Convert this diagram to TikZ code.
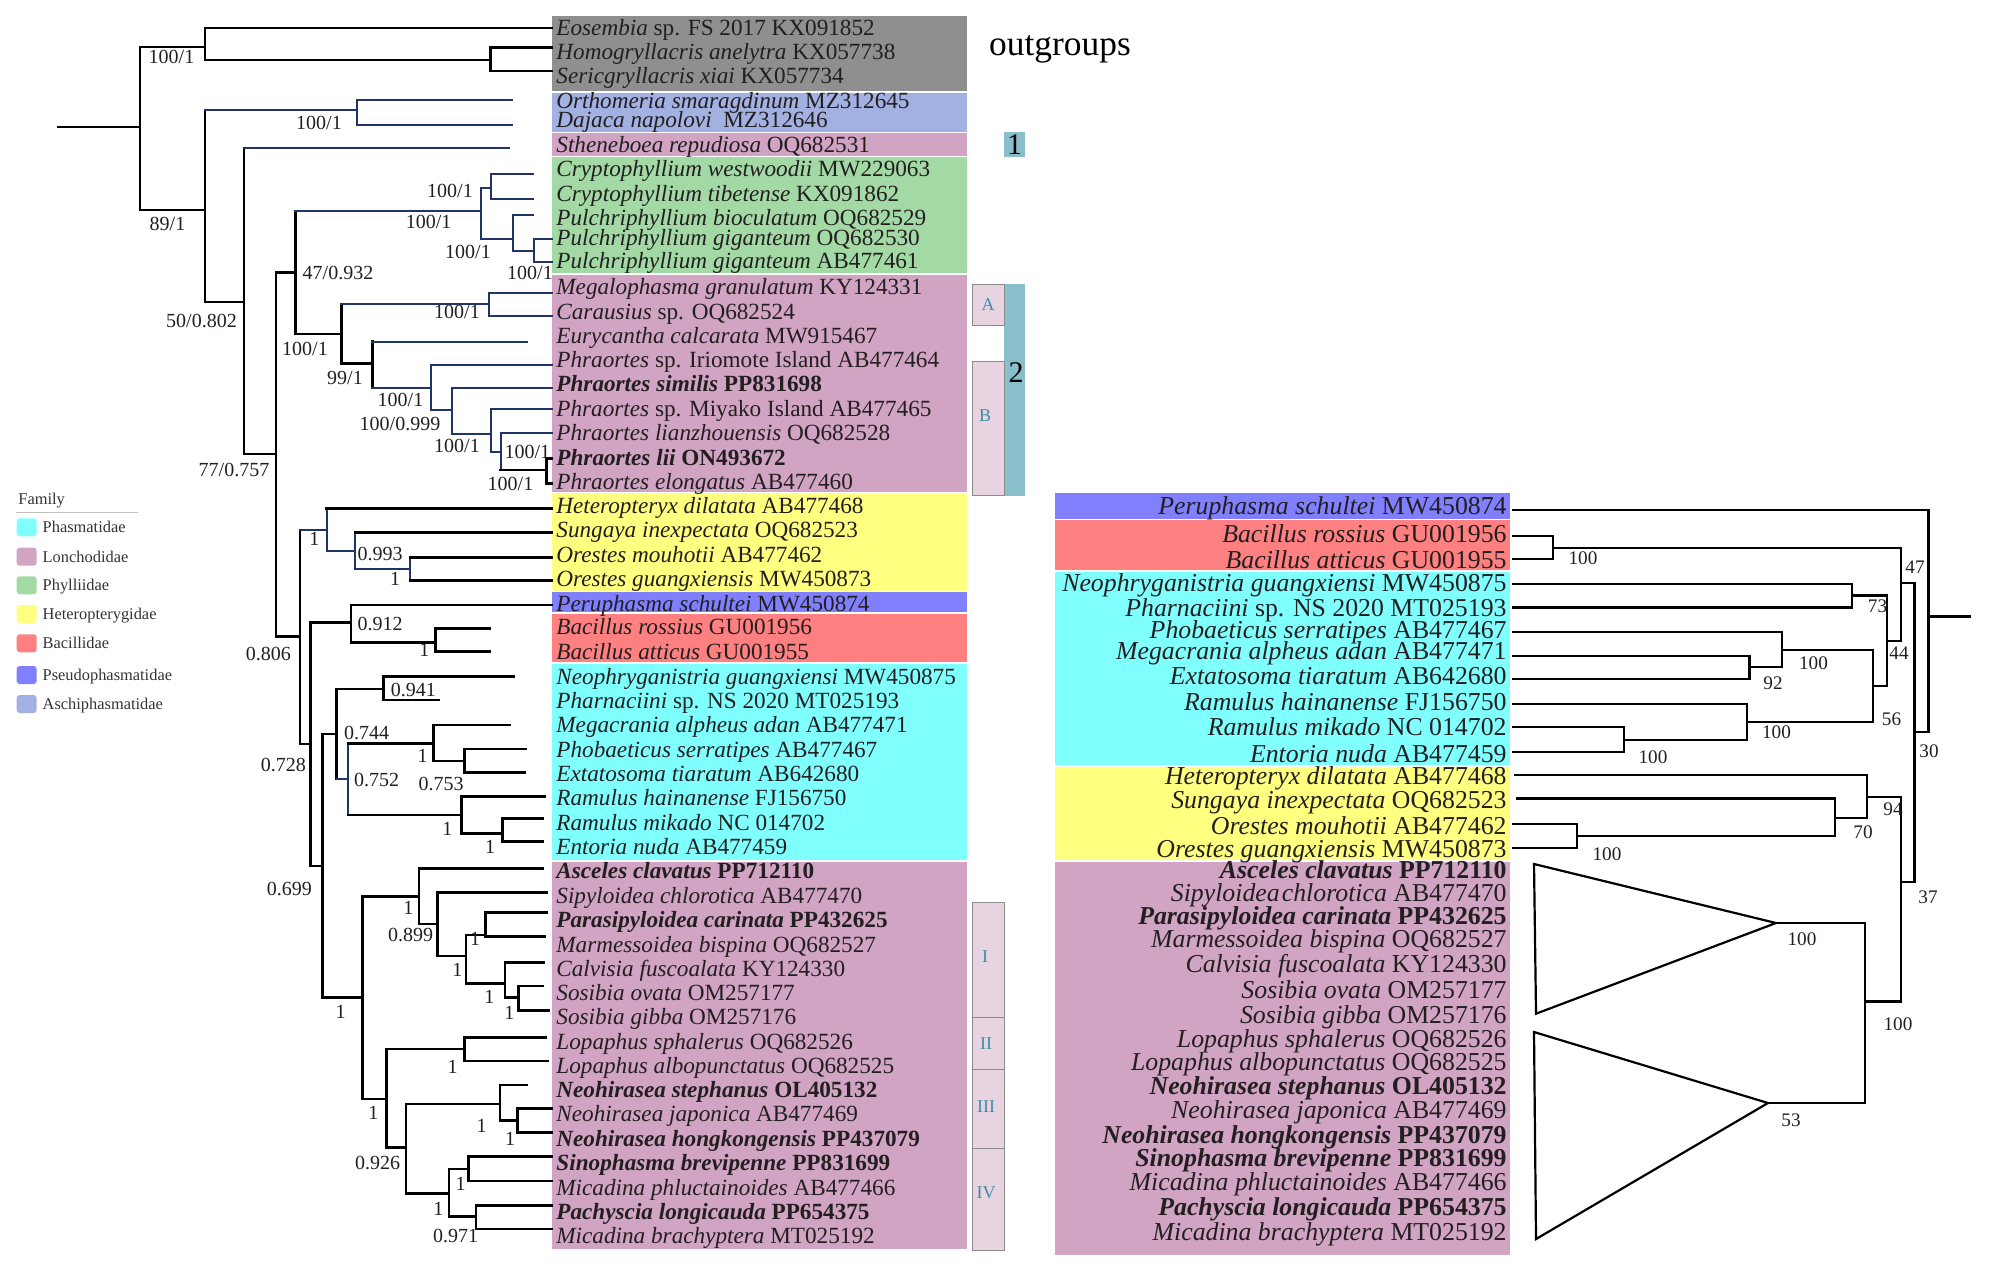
\documentclass[tikz,border=0pt]{standalone}
\usepackage{fontspec}
\setmainfont{Liberation Serif}
\definecolor{cGray}{HTML}{8F8F8F}
\definecolor{cAschi}{HTML}{A3B1E2}
\definecolor{cLonch}{HTML}{D0A4C2}
\definecolor{cPhyl}{HTML}{A3D9A5}
\definecolor{cHet}{HTML}{FFFF80}
\definecolor{cBac}{HTML}{FF8080}
\definecolor{cPseudo}{HTML}{8080FF}
\definecolor{cPhas}{HTML}{80FFFF}
\definecolor{cTeal}{HTML}{8ABECB}
\definecolor{cClade}{HTML}{E8D3E1}
\definecolor{cCladeTxt}{HTML}{3D8DA8}
\definecolor{cNavy}{HTML}{1F3566}
\definecolor{cTxt}{HTML}{231F20}
\newcommand{\edge}[4]{\draw[#3] (#1) -- (#1 |- #2); \draw[#4] (#1 |- #2) -- (#2);}
\tikzset{
  bk/.style={line width=1.25pt, line cap=rect, draw=black},
  nv/.style={line width=1.15pt, line cap=rect, draw=cNavy},
  rb/.style={line width=1.1pt, line cap=rect, draw=black},
  lt/.style={anchor=west, inner sep=0pt, text=cTxt, font=\fontsize{11.6}{12}\selectfont, text height=8pt, text depth=0pt},
  rt/.style={anchor=east, inner sep=0pt, text=cTxt, font=\fontsize{12.9}{13}\selectfont, text height=8.8pt, text depth=0pt},
  nl/.style={inner sep=0pt, text=cTxt, font=\fontsize{10}{10}\selectfont, text height=6.8pt, text depth=0pt},
  rl/.style={inner sep=0pt, text=cTxt, font=\fontsize{9.6}{10}\selectfont, text height=6.5pt, text depth=0pt},
  lg/.style={anchor=west, inner sep=0pt, text=black!80, font=\fontsize{8.2}{9}\selectfont, text height=5.6pt, text depth=0pt},
  sw/.style={rounded corners=1.5pt},
  cladebox/.style={fill=cClade, draw=black!45, line width=0.5pt},
  cladetxt/.style={inner sep=0pt, text=cCladeTxt, font=\fontsize{9}{9}\selectfont}
}
\begin{document}
\begin{tikzpicture}[x=0.5pt,y=-0.5pt]
\useasboundingbox (0,0) rectangle (1989,1274);
% ---------------- left colour boxes
\fill[cGray]   (552,15.8) rectangle (967,91);
\fill[cAschi]  (552,92.5) rectangle (967,131.7);
\fill[cLonch]  (552,133.2) rectangle (967,155.5);
\fill[cPhyl]   (552,157) rectangle (967,273);
\fill[cLonch]  (552,274.5) rectangle (967,491.5);
\fill[cHet]    (552,493) rectangle (967,590.7);
\fill[cPseudo] (552,592.2) rectangle (967,612.3);
\fill[cBac]    (552,614) rectangle (967,661.8);
\fill[cPhas]   (552,663.5) rectangle (967,860);
\fill[cLonch]  (552,861.5) rectangle (967,1249);
% ---------------- right colour boxes
\fill[cPseudo] (1055,493) rectangle (1509.6,518.5);
\fill[cBac]    (1055,520) rectangle (1509.6,570);
\fill[cPhas]   (1055,571.5) rectangle (1509.6,765);
\fill[cHet]    (1055,766.5) rectangle (1509.6,860);
\fill[cLonch]  (1055,861.5) rectangle (1509.6,1255);
% ---------------- clade marks
\fill[cTeal] (1004,131.7) rectangle (1025,157);
\node[inner sep=0pt, font=\fontsize{15}{15}\selectfont] (c1) at (1014.5,144.5) {1};
\fill[cTeal] (1004,284) rectangle (1025,496);
\node[inner sep=0pt, font=\fontsize{15}{15}\selectfont] (c2) at (1016,373) {2};
\draw[cladebox] (972.6,284) rectangle (1004,325);
\node[cladetxt] (cA) at (988,304.5) {A};
\draw[cladebox] (972.6,361) rectangle (1004,495.5);
\node[cladetxt] (cB) at (985,416) {B};
\draw[cladebox] (972,902) rectangle (1004,1017);
\node[cladetxt] (cI) at (985,957) {I};
\draw[cladebox] (972,1017) rectangle (1004,1069);
\node[cladetxt] (cII) at (986,1044) {II};
\draw[cladebox] (972,1069) rectangle (1004,1148);
\node[cladetxt] (cIII) at (986,1107) {III};
\draw[cladebox] (972,1148) rectangle (1004,1250);
\node[cladetxt] (cIV) at (986,1193) {IV};
\node[anchor=base, inner sep=0pt, font=\fontsize{17.7}{18}\selectfont, text=black] (og) at (1060,55) {outgroups};
% ---------------- legend
\node[lg] (lgF) at (18,499) {Family};
\draw[black!25, line width=0.6pt] (16,512.3) -- (138,512.3);
\foreach \c/\t/\y [count=\i] in {cPhas/Phasmatidae/527.3, cLonch/Lonchodidae/556.7, cPhyl/Phylliidae/585.3, cHet/Heteropterygidae/614, cBac/Bacillidae/643.3, cPseudo/Pseudophasmatidae/675, cAschi/Aschiphasmatidae/704}{
  \fill[\c, sw] (16.7,\y-9) rectangle (36.7,\y+9);
  \node[lg] (lg\i) at (42.3,\y) {\t};
}
% ---------------- left taxa labels
\node[lt] (L1) at (556,27.7) {\textit{Eosembia} sp. FS 2017 KX091852};
\node[lt] (L2) at (556,51.4) {\textit{Homogryllacris anelytra} KX057738};
\node[lt] (L3) at (556,75.1) {\textit{Sericgryllacris xiai} KX057734};
\node[lt] (L4) at (556,100.8) {\textit{Orthomeria smaragdinum} MZ312645};
\node[lt] (L5) at (556,119.4) {\textit{Dajaca napolovi}\ \ MZ312646};
\node[lt] (L6) at (556,144.3) {\textit{Stheneboea repudiosa} OQ682531};
\node[lt] (L7) at (556,168.8) {\textit{Cryptophyllium westwoodii} MW229063};
\node[lt] (L8) at (556,193) {\textit{Cryptophyllium tibetense} KX091862};
\node[lt] (L9) at (556,217) {\textit{Pulchriphyllium bioculatum} OQ682529};
\node[lt] (L10) at (556,237.6) {\textit{Pulchriphyllium giganteum} OQ682530};
\node[lt] (L11) at (556,260) {\textit{Pulchriphyllium giganteum} AB477461};
\node[lt] (L12) at (556,286) {\textit{Megalophasma granulatum} KY124331};
\node[lt] (L13) at (556,311) {\textit{Carausius} sp. OQ682524};
\node[lt] (L14) at (556,335) {\textit{Eurycantha calcarata} MW915467};
\node[lt] (L15) at (556,359) {\textit{Phraortes} sp. Iriomote Island AB477464};
\node[lt] (L16) at (556,383) {\textbf{\textit{Phraortes similis} PP831698}};
\node[lt] (L17) at (556,408) {\textit{Phraortes} sp. Miyako Island AB477465};
\node[lt] (L18) at (556,432) {\textit{Phraortes lianzhouensis} OQ682528};
\node[lt] (L19) at (556,457) {\textbf{\textit{Phraortes lii} ON493672}};
\node[lt] (L20) at (556,481) {\textit{Phraortes elongatus} AB477460};
\node[lt] (L21) at (556,505) {\textit{Heteropteryx dilatata} AB477468};
\node[lt] (L22) at (556,529) {\textit{Sungaya inexpectata} OQ682523};
\node[lt] (L23) at (556,554) {\textit{Orestes mouhotii} AB477462};
\node[lt] (L24) at (556,578) {\textit{Orestes guangxiensis} MW450873};
\node[lt] (L25) at (556,603) {\textit{Peruphasma schultei} MW450874};
\node[lt] (L26) at (556,626.7) {\textit{Bacillus rossius} GU001956};
\node[lt] (L27) at (556,651.6) {\textit{Bacillus atticus} GU001955};
\node[lt] (L28) at (556,676.5) {\textit{Neophryganistria guangxiensi} MW450875};
\node[lt] (L29) at (556,700) {\textit{Pharnaciini} sp. NS 2020 MT025193};
\node[lt] (L30) at (556,724.7) {\textit{Megacrania alpheus adan} AB477471};
\node[lt] (L31) at (556,749) {\textit{Phobaeticus serratipes} AB477467};
\node[lt] (L32) at (556,773) {\textit{Extatosoma tiaratum} AB642680};
\node[lt] (L33) at (556,797.7) {\textit{Ramulus hainanense} FJ156750};
\node[lt] (L34) at (556,822) {\textit{Ramulus mikado} NC 014702};
\node[lt] (L35) at (556,846) {\textit{Entoria nuda} AB477459};
\node[lt] (L36) at (556,870.8) {\textbf{\textit{Asceles clavatus} PP712110}};
\node[lt] (L37) at (556,895.7) {\textit{Sipyloidea chlorotica} AB477470};
\node[lt] (L38) at (556,919) {\textbf{\textit{Parasipyloidea carinata} PP432625}};
\node[lt] (L39) at (556,944) {\textit{Marmessoidea bispina} OQ682527};
\node[lt] (L40) at (556,968) {\textit{Calvisia fuscoalata} KY124330};
\node[lt] (L41) at (556,992) {\textit{Sosibia ovata} OM257177};
\node[lt] (L42) at (556,1016) {\textit{Sosibia gibba} OM257176};
\node[lt] (L43) at (556,1041) {\textit{Lopaphus sphalerus} OQ682526};
\node[lt] (L44) at (556,1065) {\textit{Lopaphus albopunctatus} OQ682525};
\node[lt] (L45) at (556,1089) {\textbf{\textit{Neohirasea stephanus} OL405132}};
\node[lt] (L46) at (556,1113.7) {\textit{Neohirasea japonica} AB477469};
\node[lt] (L47) at (556,1138) {\textbf{\textit{Neohirasea hongkongensis} PP437079}};
\node[lt] (L48) at (556,1162) {\textbf{\textit{Sinophasma brevipenne} PP831699}};
\node[lt] (L49) at (556,1187) {\textit{Micadina phluctainoides} AB477466};
\node[lt] (L50) at (556,1211) {\textbf{\textit{Pachyscia longicauda} PP654375}};
\node[lt] (L51) at (556,1235) {\textit{Micadina brachyptera} MT025192};
% ---------------- right taxa labels
\node[rt] (R1) at (1507,506) {\textit{Peruphasma schultei} MW450874};
\node[rt] (R2) at (1507,534) {\textit{Bacillus rossius} GU001956};
\node[rt] (R3) at (1507,560) {\textit{Bacillus atticus} GU001955};
\node[rt] (R4) at (1507,583) {\textit{Neophryganistria guangxiensi} MW450875};
\node[rt] (R5) at (1507,607.6) {\textit{Pharnaciini} sp. NS 2020 MT025193};
\node[rt] (R6) at (1507,629.7) {\textit{Phobaeticus serratipes} AB477467};
\node[rt] (R7) at (1507,651) {\textit{Megacrania alpheus adan} AB477471};
\node[rt] (R8) at (1507,676) {\textit{Extatosoma tiaratum} AB642680};
\node[rt] (R9) at (1507,702) {\textit{Ramulus hainanense} FJ156750};
\node[rt] (R10) at (1507,727) {\textit{Ramulus mikado} NC 014702};
\node[rt] (R11) at (1507,753.7) {\textit{Entoria nuda} AB477459};
\node[rt] (R12) at (1507,775.8) {\textit{Heteropteryx dilatata} AB477468};
\node[rt] (R13) at (1507,799.5) {\textit{Sungaya inexpectata} OQ682523};
\node[rt] (R14) at (1507,825.7) {\textit{Orestes mouhotii} AB477462};
\node[rt] (R15) at (1507,849) {\textit{Orestes guangxiensis} MW450873};
\node[rt] (R16) at (1507,870) {\textbf{\textit{Asceles clavatus} PP712110}};
\node[rt] (R17) at (1507,892.5) {\textit{Sipyloidea\hspace{0.08em}chlorotica} AB477470};
\node[rt] (R18) at (1507,915.6) {\textbf{\textit{Parasipyloidea carinata} PP432625}};
\node[rt] (R19) at (1507,938.7) {\textit{Marmessoidea bispina} OQ682527};
\node[rt] (R20) at (1507,963.4) {\textit{Calvisia fuscoalata} KY124330};
\node[rt] (R21) at (1507,990) {\textit{Sosibia ovata} OM257177};
\node[rt] (R22) at (1507,1015) {\textit{Sosibia gibba} OM257176};
\node[rt] (R23) at (1507,1038.6) {\textit{Lopaphus sphalerus} OQ682526};
\node[rt] (R24) at (1507,1062) {\textit{Lopaphus albopunctatus} OQ682525};
\node[rt] (R25) at (1507,1086) {\textbf{\textit{Neohirasea stephanus} OL405132}};
\node[rt] (R26) at (1507,1109.5) {\textit{Neohirasea japonica} AB477469};
\node[rt] (R27) at (1507,1134.7) {\textbf{\textit{Neohirasea hongkongensis} PP437079}};
\node[rt] (R28) at (1507,1158) {\textbf{\textit{Sinophasma brevipenne} PP831699}};
\node[rt] (R29) at (1507,1182) {\textit{Micadina phluctainoides} AB477466};
\node[rt] (R30) at (1507,1206.7) {\textbf{\textit{Pachyscia longicauda} PP654375}};
\node[rt] (R31) at (1507,1232) {\textit{Micadina brachyptera} MT025192};
% ---------------- left tree: coordinates
\coordinate (rootL) at (58,127);
\coordinate (R0) at (140,127);
\coordinate (Nout) at (205,47);
\coordinate (tEos) at (552,28);
\coordinate (Nhs) at (490.7,60);
\coordinate (tHom) at (552,47.7);
\coordinate (tSer) at (552,71);
\coordinate (N89) at (205,210);
\coordinate (Naschi) at (356.7,110);
\coordinate (tOrt) at (512,100);
\coordinate (tDaj) at (512,125);
\coordinate (N50) at (244,302);
\coordinate (tSth) at (509,148);
\coordinate (N77) at (276,454);
\coordinate (N47) at (295.3,272.7);
\coordinate (Nphyl) at (480.7,211);
\coordinate (Ncrypt) at (491,187.7);
\coordinate (tCw) at (533,174);
\coordinate (tCt) at (533,199);
\coordinate (Npulch) at (513.3,239.3);
\coordinate (tPb) at (532.7,215);
\coordinate (Ngig) at (534,250.7);
\coordinate (tPg1) at (552,239.3);
\coordinate (tPg2) at (552,262.3);
\coordinate (N100a) at (341.3,334);
\coordinate (NAC) at (489.3,304);
\coordinate (tMeg) at (552,292.7);
\coordinate (tCar) at (552,316);
\coordinate (N99) at (372.3,363.3);
\coordinate (tEur) at (527.3,341.7);
\coordinate (N100b) at (431,387.7);
\coordinate (tIri) at (552,365);
\coordinate (N999) at (451.7,410);
\coordinate (tSim) at (552,388.3);
\coordinate (N100c) at (490.7,434);
\coordinate (tMiy) at (552,409.3);
\coordinate (N100d) at (500.7,451.7);
\coordinate (tLia) at (552,433.3);
\coordinate (Nlii) at (546.7,470);
\coordinate (tLii) at (552,458.3);
\coordinate (tElo) at (552,483.3);
\coordinate (N806) at (300,636.7);
\coordinate (N1het) at (326.7,530);
\coordinate (tHet) at (552,508.3);
\coordinate (N993) at (355,550.7);
\coordinate (tSun) at (552,532.3);
\coordinate (N1or) at (410,569.3);
\coordinate (tOm) at (552,557.3);
\coordinate (tOg) at (552,580.7);
\coordinate (N728) at (310.7,744);
\coordinate (N912) at (351,622.3);
\coordinate (tPer) at (552,605);
\coordinate (N1bac) at (435.7,642.3);
\coordinate (tBr) at (490,628.3);
\coordinate (tBa) at (490,651.7);
\coordinate (N699) at (322.3,866);
\coordinate (Nphas) at (336.7,734);
\coordinate (N941) at (383.3,689);
\coordinate (tNeo) at (514,676.7);
\coordinate (tPha) at (438.3,700);
\coordinate (N752) at (348.3,779);
\coordinate (N1meg) at (433.3,743.3);
\coordinate (tMeg2) at (510,725);
\coordinate (N753) at (464.3,761);
\coordinate (tPho) at (525.7,749);
\coordinate (tExt) at (524.3,772.7);
\coordinate (N1ram) at (461.7,815);
\coordinate (tRh) at (544.3,796.7);
\coordinate (N1ent) at (502.3,833.3);
\coordinate (tRm) at (542.7,818.3);
\coordinate (tEnt) at (542.7,841.7);
\coordinate (N1L) at (362.7,997.3);
\coordinate (N1a) at (419,896.7);
\coordinate (tAsc) at (542.7,868.3);
\coordinate (N899) at (437.7,924);
\coordinate (tSip) at (546.7,892.3);
\coordinate (N1b) at (466,956);
\coordinate (N1par) at (485.7,935);
\coordinate (tPar) at (546.7,912.7);
\coordinate (tMar) at (544.3,936.7);
\coordinate (N1cal) at (505,983.3);
\coordinate (tCal) at (544,962.3);
\coordinate (N1sos) at (518.3,997.7);
\coordinate (tSo) at (542.7,986);
\coordinate (tSg) at (548.3,1010.7);
\coordinate (N1c) at (386.7,1099);
\coordinate (N1lop) at (464.3,1049);
\coordinate (tLs) at (546,1037.3);
\coordinate (tLa) at (547.3,1061);
\coordinate (N926) at (406,1147.7);
\coordinate (N1neo) at (500,1104);
\coordinate (tNs) at (526.7,1085);
\coordinate (N1jap) at (517.3,1120.7);
\coordinate (tNj) at (552,1108.3);
\coordinate (tNh) at (552,1132.7);
\coordinate (N1d) at (449,1193.3);
\coordinate (N1sin) at (468.3,1169);
\coordinate (tSin) at (552,1156.7);
\coordinate (tMp) at (552,1181);
\coordinate (N971) at (476,1216.7);
\coordinate (tPac) at (552,1205.7);
\coordinate (tMb) at (552,1229);
% ---------------- left tree: branches
\draw[bk] (rootL) -- (R0);
\edge{R0}{Nout}{bk}{bk} \edge{R0}{N89}{bk}{bk}
\edge{Nout}{tEos}{bk}{bk} \edge{Nout}{Nhs}{bk}{bk}
\edge{Nhs}{tHom}{bk}{bk} \edge{Nhs}{tSer}{bk}{bk}
\edge{N89}{Naschi}{bk}{nv} \edge{N89}{N50}{bk}{bk}
\edge{Naschi}{tOrt}{nv}{nv} \edge{Naschi}{tDaj}{nv}{nv}
\edge{N50}{tSth}{bk}{nv} \edge{N50}{N77}{bk}{bk}
\edge{N77}{N47}{bk}{bk} \edge{N77}{N806}{bk}{bk}
\edge{N47}{Nphyl}{bk}{nv} \edge{N47}{N100a}{bk}{bk}
\edge{Nphyl}{Ncrypt}{nv}{nv} \edge{Nphyl}{Npulch}{nv}{nv}
\edge{Ncrypt}{tCw}{nv}{nv} \edge{Ncrypt}{tCt}{nv}{nv}
\edge{Npulch}{tPb}{nv}{nv} \edge{Npulch}{Ngig}{nv}{nv}
\edge{Ngig}{tPg1}{nv}{nv} \edge{Ngig}{tPg2}{nv}{nv}
\edge{N100a}{NAC}{bk}{nv} \edge{N100a}{N99}{bk}{bk}
\edge{NAC}{tMeg}{nv}{nv} \edge{NAC}{tCar}{nv}{nv}
\edge{N99}{tEur}{bk}{nv} \edge{N99}{N100b}{bk}{nv}
\edge{N100b}{tIri}{nv}{nv} \edge{N100b}{N999}{nv}{nv}
\edge{N999}{tSim}{nv}{nv} \edge{N999}{N100c}{nv}{nv}
\edge{N100c}{tMiy}{nv}{nv} \edge{N100c}{N100d}{nv}{nv}
\edge{N100d}{tLia}{nv}{nv} \edge{N100d}{Nlii}{nv}{bk}
\edge{Nlii}{tLii}{bk}{bk} \edge{Nlii}{tElo}{bk}{bk}
\edge{N806}{N1het}{bk}{nv} \edge{N806}{N728}{bk}{bk}
\edge{N1het}{tHet}{nv}{bk} \edge{N1het}{N993}{nv}{nv}
\edge{N993}{tSun}{nv}{bk} \edge{N993}{N1or}{nv}{nv}
\edge{N1or}{tOm}{nv}{bk} \edge{N1or}{tOg}{nv}{bk}
\edge{N728}{N912}{bk}{bk} \edge{N728}{N699}{bk}{bk}
\edge{N912}{tPer}{bk}{bk} \edge{N912}{N1bac}{bk}{bk}
\edge{N1bac}{tBr}{bk}{bk} \edge{N1bac}{tBa}{bk}{bk}
\edge{N699}{Nphas}{bk}{bk} \edge{N699}{N1L}{bk}{bk}
\edge{Nphas}{N941}{bk}{bk} \edge{Nphas}{N752}{bk}{nv}
\edge{N941}{tNeo}{bk}{bk} \edge{N941}{tPha}{bk}{bk}
\edge{N752}{N1meg}{nv}{bk} \edge{N752}{N1ram}{nv}{bk}
\edge{N1meg}{tMeg2}{bk}{bk} \edge{N1meg}{N753}{bk}{bk}
\edge{N753}{tPho}{bk}{bk} \edge{N753}{tExt}{bk}{bk}
\edge{N1ram}{tRh}{bk}{bk} \edge{N1ram}{N1ent}{bk}{bk}
\edge{N1ent}{tRm}{bk}{bk} \edge{N1ent}{tEnt}{bk}{bk}
\edge{N1L}{N1a}{bk}{bk} \edge{N1L}{N1c}{bk}{bk}
\edge{N1a}{tAsc}{bk}{bk} \edge{N1a}{N899}{bk}{bk}
\edge{N899}{tSip}{bk}{bk} \edge{N899}{N1b}{bk}{bk}
\edge{N1b}{N1par}{bk}{bk} \edge{N1b}{N1cal}{bk}{bk}
\edge{N1par}{tPar}{bk}{bk} \edge{N1par}{tMar}{bk}{bk}
\edge{N1cal}{tCal}{bk}{bk} \edge{N1cal}{N1sos}{bk}{bk}
\edge{N1sos}{tSo}{bk}{bk} \edge{N1sos}{tSg}{bk}{bk}
\edge{N1c}{N1lop}{bk}{bk} \edge{N1c}{N926}{bk}{bk}
\edge{N1lop}{tLs}{bk}{bk} \edge{N1lop}{tLa}{bk}{bk}
\edge{N926}{N1neo}{bk}{bk} \edge{N926}{N1d}{bk}{bk}
\edge{N1neo}{tNs}{bk}{bk} \edge{N1neo}{N1jap}{bk}{bk}
\edge{N1jap}{tNj}{bk}{bk} \edge{N1jap}{tNh}{bk}{bk}
\edge{N1d}{N1sin}{bk}{bk} \edge{N1d}{N971}{bk}{bk}
\edge{N1sin}{tSin}{bk}{bk} \edge{N1sin}{tMp}{bk}{bk}
\edge{N971}{tPac}{bk}{bk} \edge{N971}{tMb}{bk}{bk}
% ---------------- left node labels
\node[nl] (s1) at (171.5,57) {100/1};
\node[nl] (s2) at (167.5,224) {89/1};
\node[nl] (s3) at (319,123) {100/1};
\node[nl] (s4) at (201.5,321) {50/0.802};
\node[nl] (s5) at (234,470) {77/0.757};
\node[nl] (s6) at (338,272.7) {47/0.932};
\node[nl] (s7) at (428.7,221.7) {100/1};
\node[nl] (s8) at (450,190.7) {100/1};
\node[nl] (s9) at (468,251.7) {100/1};
\node[nl] (s10) at (530,272.7) {100/1};
\node[nl] (s11) at (305,348.3) {100/1};
\node[nl] (s12) at (457,311.7) {100/1};
\node[nl] (s13) at (345,378) {99/1};
\node[nl] (s14) at (400.5,400) {100/1};
\node[nl] (s15) at (400,423.3) {100/0.999};
\node[nl] (s16) at (457,446) {100/1};
\node[nl] (s17) at (527.3,451.7) {100/1};
\node[nl] (s18) at (510.5,483.3) {100/1};
\node[nl] (s19) at (268.3,654) {0.806};
\node[nl] (s20) at (314.3,539) {1};
\node[nl] (s21) at (380,554) {0.993};
\node[nl] (s22) at (395,579) {1};
\node[nl] (s23) at (283.3,765) {0.728};
\node[nl] (s24) at (380,623.3) {0.912};
\node[nl] (s25) at (424.3,650) {1};
\node[nl] (s26) at (289.3,888.3) {0.699};
\node[nl] (s27) at (366.7,732.3) {0.744};
\node[nl] (s28) at (413.3,690) {0.941};
\node[nl] (s29) at (376.7,780) {0.752};
\node[nl] (s30) at (422.7,755.7) {1};
\node[nl] (s31) at (441,783.3) {0.753};
\node[nl] (s32) at (447.3,828.3) {1};
\node[nl] (s33) at (490,846.7) {1};
\node[nl] (s34) at (340.7,1011.7) {1};
\node[nl] (s35) at (408.3,907.3) {1};
\node[nl] (s36) at (410.5,935) {0.899};
\node[nl] (s37) at (457.3,969.3) {1};
\node[nl] (s38) at (475,939) {1};
\node[nl] (s39) at (489.3,996.7) {1};
\node[nl] (s40) at (509.3,1012.7) {1};
\node[nl] (s41) at (373.3,1112.3) {1};
\node[nl] (s42) at (452.7,1066.7) {1};
\node[nl] (s43) at (377.7,1162.7) {0.926};
\node[nl] (s44) at (481.7,1125.7) {1};
\node[nl] (s45) at (510,1138.3) {1};
\node[nl] (s46) at (438.3,1208.3) {1};
\node[nl] (s47) at (460.7,1184) {1};
\node[nl] (s48) at (455.5,1236) {0.971};
% ---------------- right tree: coordinates
\coordinate (rootR) at (1970,616.5);
\coordinate (R0R) at (1928.5,616.5);
\coordinate (tPerR) at (1513,510);
\coordinate (N30) at (1914.5,732);
\coordinate (N47R) at (1901,583);
\coordinate (NbacR) at (1553,547.6);
\coordinate (tBrR) at (1513,535.6);
\coordinate (tBaR) at (1513,559);
\coordinate (N44R) at (1886.6,641);
\coordinate (N73R) at (1851.6,595.5);
\coordinate (tNeoR) at (1513,584);
\coordinate (tPhaR) at (1513,607.5);
\coordinate (N56R) at (1873,686);
\coordinate (N100aR) at (1782,650);
\coordinate (tPhoR) at (1513,632);
\coordinate (N92R) at (1749.5,667);
\coordinate (tMegR) at (1513,656);
\coordinate (tExtR) at (1513,679);
\coordinate (N100bR) at (1747,722);
\coordinate (tRhR) at (1513,704);
\coordinate (N100cR) at (1624,739.6);
\coordinate (tRmR) at (1513,727);
\coordinate (tEntR) at (1513,752);
\coordinate (N37R) at (1901,882);
\coordinate (N94R) at (1866.6,797);
\coordinate (tHetR) at (1515,775);
\coordinate (N70R) at (1835,817.7);
\coordinate (tSunR) at (1516.6,798.5);
\coordinate (N100eR) at (1577,836);
\coordinate (tOmR) at (1513,824);
\coordinate (tOgR) at (1513,847.6);
\coordinate (N100dR) at (1865,1001.4);
\coordinate (T1) at (1776,923);
\coordinate (T2) at (1768,1103);
% ---------------- right tree: branches
\draw[rb] (rootR) -- (R0R);
\edge{R0R}{tPerR}{rb}{rb} \edge{R0R}{N30}{rb}{rb}
\edge{N30}{N47R}{rb}{rb} \edge{N30}{N37R}{rb}{rb}
\edge{N47R}{NbacR}{rb}{rb} \edge{N47R}{N44R}{rb}{rb}
\edge{NbacR}{tBrR}{rb}{rb} \edge{NbacR}{tBaR}{rb}{rb}
\edge{N44R}{N73R}{rb}{rb} \edge{N44R}{N56R}{rb}{rb}
\edge{N73R}{tNeoR}{rb}{rb} \edge{N73R}{tPhaR}{rb}{rb}
\edge{N56R}{N100aR}{rb}{rb} \edge{N56R}{N100bR}{rb}{rb}
\edge{N100aR}{tPhoR}{rb}{rb} \edge{N100aR}{N92R}{rb}{rb}
\edge{N92R}{tMegR}{rb}{rb} \edge{N92R}{tExtR}{rb}{rb}
\edge{N100bR}{tRhR}{rb}{rb} \edge{N100bR}{N100cR}{rb}{rb}
\edge{N100cR}{tRmR}{rb}{rb} \edge{N100cR}{tEntR}{rb}{rb}
\edge{N37R}{N94R}{rb}{rb} \edge{N37R}{N100dR}{rb}{rb}
\edge{N94R}{tHetR}{rb}{rb} \edge{N94R}{N70R}{rb}{rb}
\edge{N70R}{tSunR}{rb}{rb} \edge{N70R}{N100eR}{rb}{rb}
\edge{N100eR}{tOmR}{rb}{rb} \edge{N100eR}{tOgR}{rb}{rb}
\edge{N100dR}{T1}{rb}{rb} \edge{N100dR}{T2}{rb}{rb}
\draw[line width=1.1pt, line join=miter] (T1) -- (1534,864) -- (1536,1013.7) -- cycle;
\draw[line width=1.1pt, line join=miter] (T2) -- (1534,1032) -- (1536,1239) -- cycle;
% ---------------- right node labels
\node[rl] (q1) at (1583,558) {100};
\node[rl] (q2) at (1915,567) {47};
\node[rl] (q3) at (1877.5,606) {73};
\node[rl] (q4) at (1899,653) {44};
\node[rl] (q5) at (1891.5,718.6) {56};
\node[rl] (q6) at (1813.5,663) {100};
\node[rl] (q7) at (1773,683) {92};
\node[rl] (q8) at (1776.5,732) {100};
\node[rl] (q9) at (1653,757) {100};
\node[rl] (q10) at (1929,751) {30};
\node[rl] (q11) at (1928,897) {37};
\node[rl] (q12) at (1893,809) {94};
\node[rl] (q13) at (1863,832) {70};
\node[rl] (q14) at (1607,854) {100};
\node[rl] (q15) at (1802,939) {100};
\node[rl] (q16) at (1898,1024) {100};
\node[rl] (q17) at (1791,1120) {53};
\end{tikzpicture}
\end{document}
